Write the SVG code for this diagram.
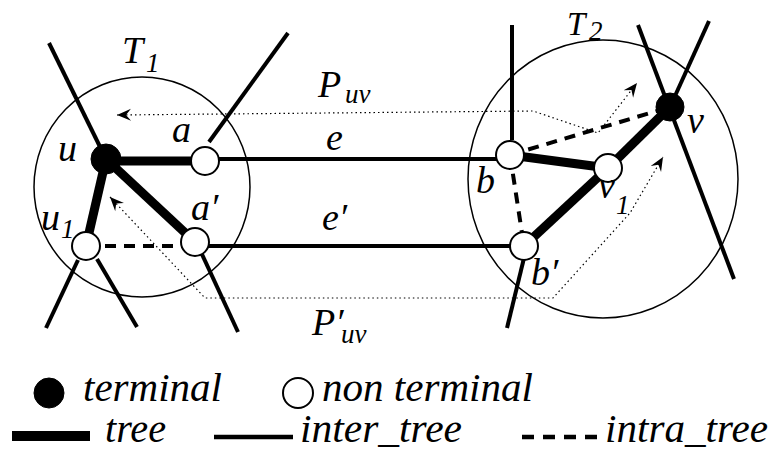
<svg xmlns="http://www.w3.org/2000/svg" width="774" height="451" viewBox="0 0 774 451">
<style>
.t{font-family:"Liberation Serif","DejaVu Serif",serif;font-style:italic;fill:#000}
.lbl{font-size:38px}
.sub{font-size:27px}
.leg{font-size:40px}
.tree{stroke:#000;stroke-width:9;stroke-linecap:butt;fill:none}
.inter{stroke:#000;stroke-width:4;fill:none}
.intra{stroke:#000;stroke-width:4;stroke-dasharray:11 8;fill:none}
.ext{stroke:#000;stroke-width:4;fill:none}
.region{stroke:#000;stroke-width:1.5;fill:none}
.path{stroke:#000;stroke-width:1.2;stroke-dasharray:1.5 3;fill:none;marker-start:url(#arr);marker-end:url(#arr)}
.term{fill:#000;stroke:#000;stroke-width:1}
.non{fill:#fff;stroke:#000;stroke-width:2}
</style>
<defs>
<marker id="arr" markerUnits="userSpaceOnUse" markerWidth="24" markerHeight="16" viewBox="-14 -8 16 16" refX="0" refY="0" orient="auto-start-reverse">
<path d="M0,0 L-14,-6 L-9,0 L-14,6 Z" fill="#000"/>
</marker>
</defs>
<rect width="774" height="451" fill="#fff"/>

<g id="regions">
<ellipse class="region" cx="142" cy="187" rx="108" ry="110"/>
<ellipse class="region" cx="603" cy="179" rx="135" ry="139"/>
<text class="t lbl" x="122" y="63">T</text><text class="t sub" x="146" y="72">1</text>
<text class="t" x="567" y="35" font-size="33">T</text><text class="t sub" x="589" y="40" font-size="25">2</text>
</g>

<g id="connectors">
<line class="ext" x1="49" y1="43" x2="106" y2="159"/>
<line class="ext" x1="209" y1="142" x2="288" y2="33"/>
<line class="ext" x1="78" y1="260" x2="46" y2="328"/>
<line class="ext" x1="97" y1="259" x2="137" y2="327"/>
<line class="ext" x1="200" y1="250" x2="238" y2="332"/>
<line class="ext" x1="512" y1="25" x2="512" y2="140"/>
<line class="ext" x1="524" y1="258" x2="507" y2="328"/>
<line class="ext" x1="638" y1="25" x2="734" y2="279"/>
<line class="ext" x1="709" y1="21" x2="670" y2="107"/>
<line class="inter" x1="205" y1="159" x2="510" y2="159"/>
<line class="inter" x1="195" y1="246" x2="524" y2="246"/>
<line class="intra" x1="86" y1="246" x2="195" y2="246"/>
<line class="intra" x1="510" y1="155" x2="670" y2="107"/>
<line class="intra" x1="510" y1="155" x2="524" y2="246"/>
<line class="tree" x1="106" y1="161" x2="205" y2="161"/>
<line class="tree" x1="106" y1="159" x2="195" y2="242"/>
<line class="tree" x1="106" y1="159" x2="86" y2="246"/>
<line class="tree" x1="510" y1="155" x2="608" y2="168"/>
<line class="tree" x1="608" y1="168" x2="670" y2="107"/>
<line class="tree" x1="608" y1="168" x2="524" y2="246"/>
<polyline class="path" points="117,115 533,111 598,133 637,83"/>
<polyline class="path" points="110,197 205,298 553,298 630,213 663,157"/>
</g>

<g id="node-u"><circle class="term" cx="106" cy="159" r="15"/><text class="t lbl" x="58" y="161">u</text></g>
<g id="node-a"><circle class="non" cx="205" cy="161" r="14"/><text class="t lbl" x="172" y="142">a</text></g>
<g id="node-a2"><circle class="non" cx="195" cy="242" r="14"/><text class="t lbl" x="191" y="220">a′</text></g>
<g id="node-u1"><circle class="non" cx="86" cy="246" r="14"/><text class="t lbl" x="41" y="230">u</text><text class="t sub" x="61" y="238">1</text></g>
<g id="node-b"><circle class="non" cx="510" cy="155" r="14"/><text class="t lbl" x="476" y="193">b</text></g>
<g id="node-b2"><circle class="non" cx="524" cy="246" r="14"/><text class="t lbl" x="531" y="285">b′</text></g>
<g id="node-v1"><circle class="non" cx="608" cy="168" r="14"/><text class="t lbl" x="598" y="198">v</text><text class="t sub" x="616" y="214">1</text></g>
<g id="node-v"><circle class="term" cx="670" cy="107" r="14"/><text class="t lbl" x="687" y="133">v</text></g>

<g id="edge-labels">
<text class="t lbl" x="318" y="97">P</text><text class="t sub" x="345" y="103">uv</text>
<text class="t lbl" x="326" y="150">e</text>
<text class="t lbl" x="322" y="230">e′</text>
<text class="t lbl" x="312" y="335">P′</text><text class="t sub" x="341" y="343">uv</text>
</g>

<g id="legend">
<circle class="term" cx="49" cy="393" r="15"/>
<text class="t leg" x="83" y="401" textLength="139" lengthAdjust="spacingAndGlyphs">terminal</text>
<circle class="non" cx="298" cy="393" r="15"/>
<text class="t leg" x="322" y="401" textLength="211" lengthAdjust="spacingAndGlyphs">non terminal</text>
<line x1="12" y1="436" x2="90" y2="436" stroke="#000" stroke-width="10"/>
<text class="t leg" x="105" y="442" textLength="61" lengthAdjust="spacingAndGlyphs">tree</text>
<line x1="214" y1="437" x2="293" y2="437" stroke="#000" stroke-width="4.5"/>
<text class="t leg" x="300" y="442" textLength="162" lengthAdjust="spacingAndGlyphs">inter_tree</text>
<line x1="522" y1="437" x2="598" y2="437" stroke="#000" stroke-width="4.5" stroke-dasharray="12 9"/>
<text class="t leg" x="605" y="442" textLength="163" lengthAdjust="spacingAndGlyphs">intra_tree</text>
</g>
</svg>
